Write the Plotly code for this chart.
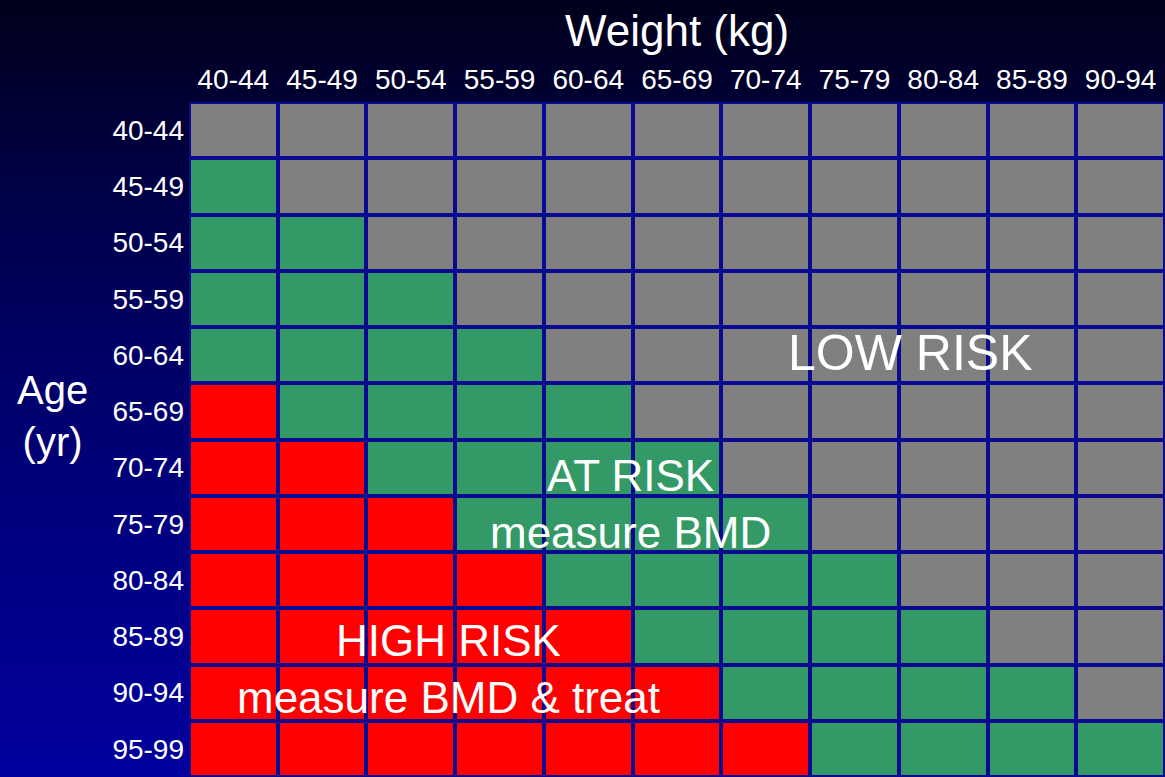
import plotly.graph_objects as go

# ---- data ----
weights = ["40-44", "45-49", "50-54", "55-59", "60-64", "65-69",
           "70-74", "75-79", "80-84", "85-89", "90-94"]
ages = ["40-44", "45-49", "50-54", "55-59", "60-64", "65-69",
        "70-74", "75-79", "80-84", "85-89", "90-94", "95-99"]
# 0 = low risk, 1 = at risk, 2 = high risk (rows = ages top->bottom)
risk = [
    [0, 0, 0, 0, 0, 0, 0, 0, 0, 0, 0],
    [1, 0, 0, 0, 0, 0, 0, 0, 0, 0, 0],
    [1, 1, 0, 0, 0, 0, 0, 0, 0, 0, 0],
    [1, 1, 1, 0, 0, 0, 0, 0, 0, 0, 0],
    [1, 1, 1, 1, 0, 0, 0, 0, 0, 0, 0],
    [2, 1, 1, 1, 1, 0, 0, 0, 0, 0, 0],
    [2, 2, 1, 1, 1, 1, 0, 0, 0, 0, 0],
    [2, 2, 2, 1, 1, 1, 1, 0, 0, 0, 0],
    [2, 2, 2, 2, 1, 1, 1, 1, 0, 0, 0],
    [2, 2, 2, 2, 2, 1, 1, 1, 1, 0, 0],
    [2, 2, 2, 2, 2, 2, 1, 1, 1, 1, 0],
    [2, 2, 2, 2, 2, 2, 2, 1, 1, 1, 1],
]
zone_labels = ["LOW RISK", "AT RISK<br>measure BMD", "HIGH RISK<br>measure BMD & treat"]

GRAY, GREEN, RED = "#808080", "#339966", "#ff0000"
NAVY = "#0a0a90"
FONT = "Liberation Sans, Arial, sans-serif"

W, H = 1165, 777
left_px, top_px = 189, 102

fig = go.Figure()

# background gradient (full paper)
grad = [[v] for v in range(50)]
fig.add_trace(go.Heatmap(
    z=grad, x=[0], y=list(range(50)), xaxis="x", yaxis="y",
    colorscale=[[0, "#00001c"], [0.2, "#000040"], [0.5, "#00006c"],
                [0.75, "#000086"], [1, "#00009c"]],
    showscale=False, hoverinfo="skip"))

# navy grid backing
fig.add_trace(go.Heatmap(
    z=[[0]], x0=(len(weights) - 1) / 2, dx=len(weights),
    y0=(len(ages) - 1) / 2, dy=len(ages),
    xaxis="x2", yaxis="y2",
    colorscale=[[0, NAVY], [1, NAVY]], showscale=False, hoverinfo="skip"))

# risk grid
fig.add_trace(go.Heatmap(
    z=risk, x=list(range(len(weights))), y=list(range(len(ages))),
    xaxis="x2", yaxis="y2", zmin=0, zmax=2, xgap=4, ygap=4,
    colorscale=[[0, GRAY], [1 / 3, GRAY], [1 / 3, GREEN], [2 / 3, GREEN],
                [2 / 3, RED], [1, RED]],
    showscale=False, hoverinfo="skip"))

ann = []
ann.append(dict(text="Weight (kg)", xref="paper", yref="paper",
                x=677 / W, y=1 - 30 / H, xanchor="center", yanchor="middle",
                showarrow=False,
                font=dict(size=44, color="white", family=FONT)))
ann.append(dict(text="Age<br>(yr)", xref="paper", yref="paper",
                x=52 / W, y=1 - 416 / H, xanchor="center", yanchor="middle",
                showarrow=False,
                font=dict(size=40, color="white", family=FONT)))
ann.append(dict(text=zone_labels[0], xref="x2", yref="y2", x=7.63, y=3.96,
                showarrow=False, font=dict(size=50, color="white", family=FONT)))
ann.append(dict(text=zone_labels[1], xref="x2", yref="y2", x=4.48, y=6.64,
                showarrow=False, font=dict(size=44, color="white", family=FONT)))
ann.append(dict(text=zone_labels[2], xref="x2", yref="y2", x=2.42, y=9.58,
                showarrow=False, font=dict(size=44, color="white", family=FONT)))

fig.update_layout(
    width=W, height=H, margin=dict(l=0, r=0, t=0, b=0),
    paper_bgcolor="#000050", plot_bgcolor="rgba(0,0,0,0)",
    showlegend=False,
    xaxis=dict(domain=[0, 1], visible=False, range=[-0.5, 0.5], fixedrange=True),
    yaxis=dict(domain=[0, 1], visible=False, range=[49.5, -0.5], fixedrange=True),
    xaxis2=dict(domain=[left_px / W, 1], anchor="y2", side="top",
                range=[-0.5, len(weights) - 0.5],
                tickvals=list(range(len(weights))), ticktext=weights,
                showgrid=False, zeroline=False, ticks="", showline=False,
                ticklabelstandoff=6,
                tickfont=dict(size=28, color="white", family=FONT),
                fixedrange=True),
    yaxis2=dict(domain=[0, 1 - top_px / H], anchor="x2",
                range=[len(ages) - 0.5, -0.5],
                tickvals=list(range(len(ages))), ticktext=ages,
                showgrid=False, zeroline=False, ticks="", showline=False,
                ticklabelstandoff=4,
                tickfont=dict(size=28, color="white", family=FONT),
                fixedrange=True),
    annotations=ann,
)

fig.write_html("out.html", config={"displayModeBar": False},
               post_script="document.body.style.margin='0';")
